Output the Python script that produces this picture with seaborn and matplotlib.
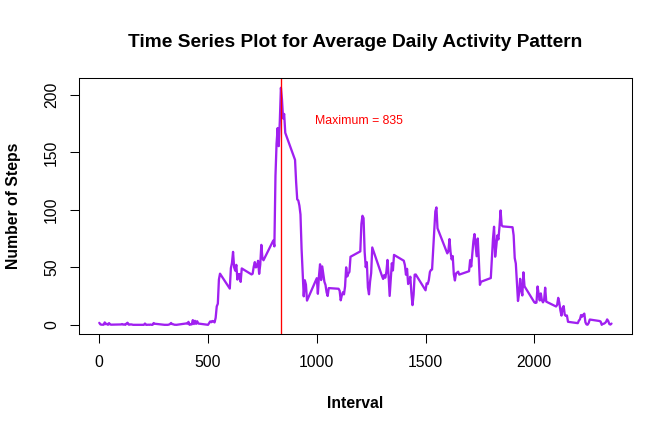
import matplotlib
matplotlib.use("Agg")
import matplotlib.pyplot as plt
import seaborn as sns
import pandas as pd

interval = [
    0, 5, 10, 15, 20, 25, 30, 35, 40, 45, 50, 55,
    100, 105, 110, 115, 120, 125, 130, 135, 140, 145, 150, 155,
    200, 205, 210, 215, 220, 225, 230, 235, 240, 245, 250, 255,
    300, 305, 310, 315, 320, 325, 330, 335, 340, 345, 350, 355,
    400, 405, 410, 415, 420, 425, 430, 435, 440, 445, 450, 455,
    500, 505, 510, 515, 520, 525, 530, 535, 540, 545, 550, 555,
    600, 605, 610, 615, 620, 625, 630, 635, 640, 645, 650, 655,
    700, 705, 710, 715, 720, 725, 730, 735, 740, 745, 750, 755,
    800, 805, 810, 815, 820, 825, 830, 835, 840, 845, 850, 855,
    900, 905, 910, 915, 920, 925, 930, 935, 940, 945, 950, 955,
    1000, 1005, 1010, 1015, 1020, 1025, 1030, 1035, 1040, 1045, 1050, 1055,
    1100, 1105, 1110, 1115, 1120, 1125, 1130, 1135, 1140, 1145, 1150, 1155,
    1200, 1205, 1210, 1215, 1220, 1225, 1230, 1235, 1240, 1245, 1250, 1255,
    1300, 1305, 1310, 1315, 1320, 1325, 1330, 1335, 1340, 1345, 1350, 1355,
    1400, 1405, 1410, 1415, 1420, 1425, 1430, 1435, 1440, 1445, 1450, 1455,
    1500, 1505, 1510, 1515, 1520, 1525, 1530, 1535, 1540, 1545, 1550, 1555,
    1600, 1605, 1610, 1615, 1620, 1625, 1630, 1635, 1640, 1645, 1650, 1655,
    1700, 1705, 1710, 1715, 1720, 1725, 1730, 1735, 1740, 1745, 1750, 1755,
    1800, 1805, 1810, 1815, 1820, 1825, 1830, 1835, 1840, 1845, 1850, 1855,
    1900, 1905, 1910, 1915, 1920, 1925, 1930, 1935, 1940, 1945, 1950, 1955,
    2000, 2005, 2010, 2015, 2020, 2025, 2030, 2035, 2040, 2045, 2050, 2055,
    2100, 2105, 2110, 2115, 2120, 2125, 2130, 2135, 2140, 2145, 2150, 2155,
    2200, 2205, 2210, 2215, 2220, 2225, 2230, 2235, 2240, 2245, 2250, 2255,
    2300, 2305, 2310, 2315, 2320, 2325, 2330, 2335, 2340, 2345, 2350, 2355,
]

steps = [
    1.72, 0.34, 0.13, 0.15, 0.08, 2.09, 0.53, 0.87, 0.00, 1.47, 0.30, 0.13,
    0.32, 0.68, 0.15, 0.34, 0.00, 1.11, 1.83, 0.17, 0.17, 0.38, 0.26, 0.00,
    0.00, 0.00, 1.13, 0.00, 0.00, 0.13, 0.00, 0.23, 0.00, 0.00, 1.55, 0.94,
    0.00, 0.00, 0.00, 0.00, 0.21, 0.62, 1.62, 0.58, 0.49, 0.08, 0.00, 0.00,
    1.19, 0.94, 2.57, 0.00, 0.34, 0.36, 4.11, 0.66, 3.49, 0.83, 3.11, 1.11,
    0.00, 1.57, 3.00, 2.25, 3.32, 2.96, 2.09, 6.06, 16.02, 18.34, 39.45, 44.49,
    31.49, 49.26, 53.77, 63.45, 49.96, 47.08, 52.15, 39.34, 44.02, 44.17, 37.36, 49.04,
    43.81, 44.38, 50.51, 54.51, 49.92, 50.98, 55.68, 44.32, 52.26, 69.55, 57.85, 56.15,
    73.38, 68.21, 129.43, 157.53, 171.15, 155.40, 177.30, 206.17, 195.92, 179.57, 183.40, 167.02,
    143.45, 124.04, 109.11, 108.11, 103.72, 95.96, 66.21, 45.23, 24.79, 38.75, 34.98, 21.06,
    40.57, 26.98, 42.42, 52.66, 38.92, 50.79, 44.28, 37.42, 34.70, 28.34, 25.09, 31.94,
    31.36, 29.68, 21.32, 25.55, 28.38, 26.47, 33.43, 49.98, 42.04, 44.60, 46.04, 59.19,
    63.87, 87.70, 94.85, 92.77, 63.40, 50.17, 54.47, 32.42, 26.53, 37.74, 45.06, 67.28,
    42.34, 39.89, 43.26, 40.98, 46.25, 56.43, 42.75, 25.13, 39.96, 53.55, 47.32, 60.81,
    55.75, 51.96, 43.58, 48.70, 35.47, 37.55, 41.85, 27.51, 17.11, 26.08, 43.62, 43.77,
    30.02, 36.08, 35.49, 38.85, 45.96, 47.75, 48.13, 65.32, 82.91, 98.66, 102.11, 83.96,
    62.13, 64.13, 74.55, 63.17, 56.91, 59.77, 43.87, 38.57, 44.66, 45.45, 46.21, 43.68,
    46.62, 56.30, 50.72, 61.23, 72.72, 78.94, 68.94, 59.66, 75.09, 56.51, 34.77, 37.45,
    40.68, 58.02, 74.70, 85.32, 59.26, 67.77, 77.70, 74.25, 85.34, 99.45, 86.58, 85.60,
    84.87, 77.83, 58.04, 53.36, 36.32, 20.72, 27.40, 40.02, 30.21, 25.55, 45.66, 33.53,
    19.62, 19.02, 19.34, 33.34, 26.81, 21.17, 27.30, 21.34, 19.55, 21.32, 32.30, 20.15,
    15.94, 17.23, 23.45, 19.25, 12.45, 8.02, 14.66, 16.30, 8.68, 7.79, 8.13, 2.62,
    1.45, 3.68, 4.81, 8.51, 7.08, 8.70, 9.75, 2.21, 0.32, 0.11, 1.60, 4.60,
    3.30, 2.85, 0.00, 0.83, 0.96, 1.58, 2.60, 4.70, 3.30, 0.64, 0.23, 1.08,
]

max_interval = 835
title = "Time Series Plot for Average Daily Activity Pattern"
x_label = "Interval"
y_label = "Number of Steps"
x_ticks = [0, 500, 1000, 1500, 2000]
y_ticks = [0, 50, 100, 150, 200]

sns.set_style("white")
plt.rcParams["font.family"] = ["Liberation Sans", "DejaVu Sans"]
plt.rcParams["text.color"] = "black"
plt.rcParams["axes.labelcolor"] = "black"
plt.rcParams["xtick.color"] = "black"
plt.rcParams["ytick.color"] = "black"

df = pd.DataFrame({"interval": interval, "steps": steps})

fig = plt.figure(figsize=(6.72, 4.32), dpi=100)
ax = fig.add_axes([78.8 / 672, (432 - 334.3) / 432, 553.2 / 672, 256 / 432])

sns.lineplot(data=df, x="interval", y="steps", ax=ax, color="#A020F0",
             linewidth=1.65, estimator=None, sort=True)
ax.axvline(max_interval, color="red", linewidth=0.95)
ax.text(1195, 174.5, "Maximum = " + str(max_interval), color="red",
        fontsize=8.8, ha="center", va="baseline")

ax.set_xlim(-94.2, 2449.2)
ax.set_ylim(-8.25, 214.42)
ax.set_xticks(x_ticks)
ax.set_yticks(y_ticks)
ax.set_xticklabels([str(t) for t in x_ticks])
ax.set_yticklabels([str(t) for t in y_ticks], rotation=90, va="center")

for s in ax.spines.values():
    s.set_visible(True)
    s.set_color("black")
    s.set_linewidth(0.75)

ax.tick_params(axis="both", which="major", direction="out", length=6.8,
               width=0.75, color="black", labelsize=11.3, labelcolor="black",
               bottom=True, left=True)
ax.tick_params(axis="x", pad=8)
ax.tick_params(axis="y", pad=7.5)

ax.set_xlabel(x_label, fontsize=11.3, fontweight="bold", color="black")
ax.set_ylabel(y_label, fontsize=11.3, fontweight="bold", color="black")
ax.xaxis.label.set_va("baseline")
ax.xaxis.set_label_coords(0.5, -(408 - 334.3) / 256)
ax.yaxis.label.set_va("baseline")
ax.yaxis.set_label_coords((18 - 78.8) / 553.2, 0.5)

ax.set_title(title, fontsize=13.8, fontweight="bold", color="black",
             y=1 + (78.3 - 46.7) / 256, pad=0, va="baseline")

fig.savefig("out.png", dpi=100, facecolor="white")
